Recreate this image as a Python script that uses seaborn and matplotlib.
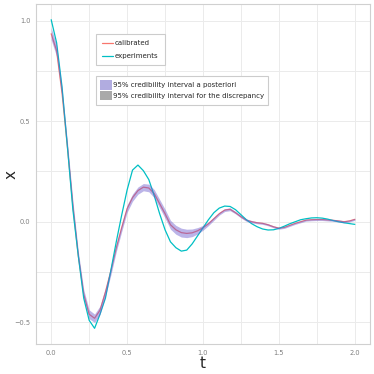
import numpy as np
import pandas as pd
import matplotlib
matplotlib.use("Agg")
import matplotlib.pyplot as plt
import seaborn as sns
from matplotlib.lines import Line2D
from matplotlib.patches import Patch
from matplotlib.ticker import MultipleLocator

# 时间轴：0 到 2，共 57 个采样点
t = np.linspace(0, 2, 57)

# experiments（实验数据，从图上读取）
experiments = [
    1.005, 0.89, 0.67, 0.37, 0.06, -0.17, -0.38, -0.49, -0.53, -0.46,
    -0.38, -0.243, -0.10, 0.033, 0.158, 0.257, 0.282, 0.254, 0.21, 0.13,
    0.04, -0.04, -0.10, -0.129, -0.146, -0.141, -0.11, -0.07, -0.03, 0.01,
    0.045, 0.068, 0.078, 0.076, 0.06, 0.035, 0.01, -0.01, -0.025, -0.036,
    -0.041, -0.04, -0.033, -0.022, -0.01, 0.0, 0.01, 0.015, 0.019, 0.02,
    0.018, 0.013, 0.006, 0.0, -0.005, -0.009, -0.013,
]

# calibrated（校准模型）
calibrated = [
    0.935, 0.85, 0.64, 0.37, 0.08, -0.17, -0.36, -0.46, -0.48, -0.44,
    -0.35, -0.245, -0.13, -0.03, 0.065, 0.12, 0.155, 0.172, 0.168, 0.14,
    0.09, 0.04, -0.015, -0.04, -0.054, -0.058, -0.055, -0.045, -0.03, -0.01,
    0.015, 0.04, 0.058, 0.062, 0.045, 0.025, 0.008, 0.0, -0.005, -0.008,
    -0.015, -0.025, -0.032, -0.028, -0.018, -0.008, 0.0, 0.008, 0.01, 0.011,
    0.011, 0.009, 0.007, 0.004, 0.0, 0.004, 0.012,
]

# 95% 后验可信区间的半宽
band_half = [
    0.03, 0.028, 0.026, 0.025, 0.024, 0.023, 0.022, 0.022, 0.021, 0.021,
    0.02, 0.02, 0.019, 0.019, 0.018, 0.018, 0.018, 0.018, 0.019, 0.02,
    0.021, 0.022, 0.022, 0.022, 0.022, 0.021, 0.019, 0.016, 0.012, 0.009,
    0.008, 0.007, 0.007, 0.007, 0.006, 0.006, 0.006, 0.006, 0.005, 0.005,
    0.005, 0.005, 0.005, 0.005, 0.005, 0.005, 0.005, 0.005, 0.005, 0.005,
    0.005, 0.005, 0.005, 0.005, 0.005, 0.005, 0.005,
]

series_names = ["calibrated", "experiments"]
series_colors = ["#F8766D", "#00BFC4"]
band_labels = ["95% credibility interval a posteriori",
               "95% credibility interval for the discrepancy"]
band_colors = ["#B1ACE0", "#A9A9A9"]

df = pd.DataFrame({
    "t": np.concatenate([t, t]),
    "x": calibrated + experiments,
    "series": ["calibrated"] * len(t) + ["experiments"] * len(t),
})

sns.set_theme(style="white")
plt.rcParams["font.family"] = ["DejaVu Sans"]

fig = plt.figure(figsize=(3.74, 3.74), dpi=100)
ax = fig.add_axes([0.0963, 0.0802, 0.8930, 0.9091])

sns.lineplot(data=df, x="t", y="x", hue="series", hue_order=series_names,
             palette=series_colors, linewidth=0.9, ax=ax, legend=False)

lo = np.array(calibrated) - np.array(band_half)
hi = np.array(calibrated) + np.array(band_half)
ax.fill_between(t, lo, hi, color="#6A5ACD", alpha=0.45, linewidth=0, zorder=3)

ax.set_xlim(-0.1, 2.1)
ax.set_ylim(-0.608, 1.083)
ax.xaxis.set_major_locator(MultipleLocator(0.5))
ax.xaxis.set_minor_locator(MultipleLocator(0.25))
ax.yaxis.set_major_locator(MultipleLocator(0.5))
ax.yaxis.set_minor_locator(MultipleLocator(0.25))
ax.grid(which="both", color="#EBEBEB", linewidth=0.7)
ax.set_axisbelow(True)
for s in ax.spines.values():
    s.set_color("#D0D0D0")
    s.set_linewidth(0.8)
ax.tick_params(which="both", length=0, labelsize=4.8, labelcolor="#7F7F7F", pad=4)
ax.set_xticklabels([f"{v:.1f}" for v in ax.get_xticks()])
ax.set_xlabel("t", fontsize=11, labelpad=0)
ax.set_ylabel("x", fontsize=11, rotation=90)
ax.yaxis.set_label_coords(-0.052, 0.5)

h1 = [Line2D([], [], color=c, lw=0.9) for c in series_colors]
leg1 = ax.legend(h1, series_names, loc="upper left", bbox_to_anchor=(0.18, 0.912),
                 borderaxespad=0, fontsize=5, frameon=True, fancybox=False,
                 edgecolor="#CCCCCC", framealpha=1, handlelength=1.5,
                 handletextpad=0.3, labelspacing=1.0, borderpad=0.9)
leg1.get_frame().set_linewidth(0.8)
ax.add_artist(leg1)

h2 = [Patch(facecolor=c, edgecolor="none") for c in band_colors]
leg2 = ax.legend(h2, band_labels, loc="upper left", bbox_to_anchor=(0.18, 0.788),
                 borderaxespad=0, fontsize=5, frameon=True, fancybox=False,
                 edgecolor="#CCCCCC", framealpha=1, handlelength=1.7,
                 handleheight=1.7, handletextpad=0.1, labelspacing=0.2,
                 borderpad=0.6)
leg2.get_frame().set_linewidth(0.8)

fig.savefig("out.png", dpi=100)
